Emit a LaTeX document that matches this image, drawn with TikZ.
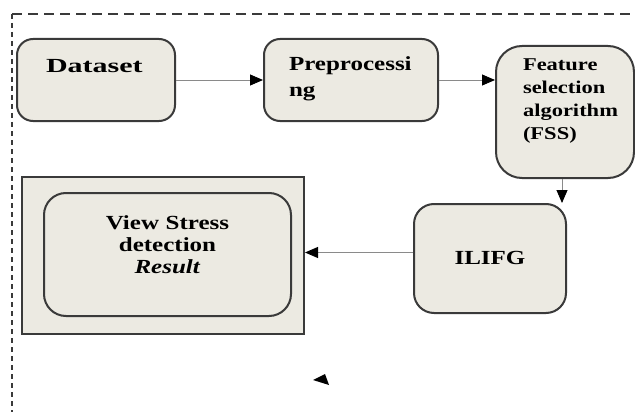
\documentclass[tikz,border=0pt]{standalone}
\usepackage{fontspec}
\setmainfont[FakeStretch=1.25]{Liberation Serif}
\newfontfamily\widefont[FakeStretch=1.5]{Liberation Serif}
\usetikzlibrary{arrows.meta}
\definecolor{boxfill}{HTML}{ECEAE2}
\definecolor{boxline}{HTML}{3A3A3A}
\definecolor{linegray}{HTML}{8A8A8A}
\hyphenpenalty=10000
\tikzset{
  stage/.style={draw=boxline, fill=boxfill, line width=2pt, rounded corners=16pt, inner ysep=0pt, anchor=north west, align=left},
  conn/.style={draw=linegray, line width=0.9pt, -{Triangle[length=13pt,width=11pt,color=black]}}
}
\begin{document}
\begin{tikzpicture}[x=1pt,y=-1pt]
\useasboundingbox (0,0) rectangle (635,412);
% dashed frame
\draw[boxline, line width=1.6pt, dash pattern=on 10pt off 6pt] (12,14) -- (640,14);
\draw[boxline, line width=2.4pt, dash pattern=on 5pt off 4pt] (12,14) -- (12,420);

\node[stage, text width=100pt, inner xsep=29pt, text height=34pt, text depth=48pt, font=\widefont\bfseries\fontsize{20}{24}\selectfont] (data) at (16,38) {Dataset};
\node[stage, text width=124pt, inner xsep=25pt, text height=32pt, text depth=50pt, font=\bfseries\fontsize{20}{25}\selectfont] (pre) at (263,38) {Preprocessi\\ng};
\node[stage, rounded corners=26pt, text width=84pt, inner xsep=27pt, text height=25pt, text depth=107pt, font=\bfseries\fontsize{18}{22.7}\selectfont] (fss) at (495,45) {Feature\\selection\\algorithm\\(FSS)};
\node[stage, rounded corners=20pt, align=center, text width=112pt, inner xsep=20pt, text height=60pt, text depth=49pt, font=\bfseries\fontsize{20}{24}\selectfont] (ilifg) at (413,203) {ILIFG};

% result panel
\node[draw=boxline, fill=boxfill, line width=2pt, minimum width=282pt, minimum height=157pt, anchor=north west, inner sep=0pt] (panel) at (21,176) {};
\node[stage, rounded corners=22pt, align=center, text width=207pt, inner xsep=20pt, text height=36pt, text depth=87pt, font=\bfseries\fontsize{20}{22}\selectfont] (result) at (43,192) {View Stress\\detection\\\textit{Result}};

\draw[conn] (data) -- (pre);
\draw[conn] (pre.east) -- (pre.east -| fss.west);
\draw[conn] ([xshift=-5pt]fss.south -| ilifg.east) -- ([xshift=-5pt]ilifg.north east);
\draw[conn] ([yshift=6pt]ilifg.west) -- ([yshift=6pt]ilifg.west -| panel.east);

%\draw[conn] (panel.south) -- (322,380);
\fill[black] (313,380) -- (325,374) -- (329,385) -- cycle;
\end{tikzpicture}
\end{document}
